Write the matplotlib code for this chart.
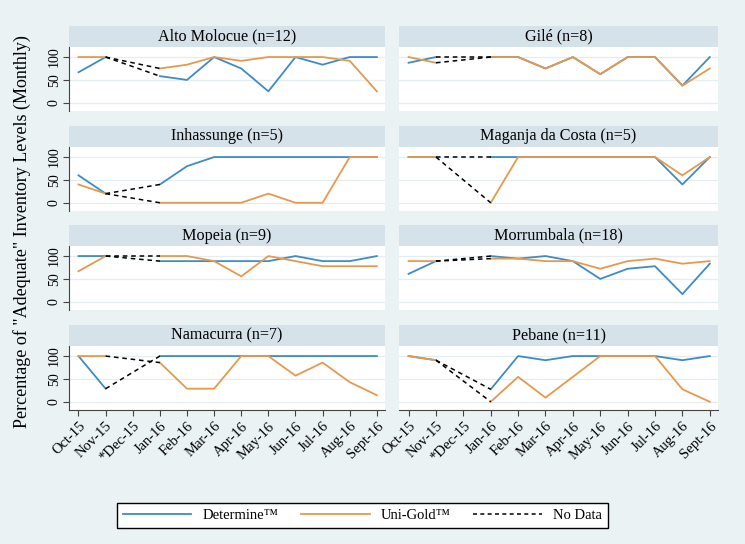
import numpy as np
import matplotlib
matplotlib.use("Agg")
import matplotlib.pyplot as plt
from matplotlib.lines import Line2D

plt.rcParams['font.family'] = ['Liberation Serif', 'DejaVu Serif']

months = ["Oct-15", "Nov-15", "*Dec-15", "Jan-16", "Feb-16", "Mar-16", "Apr-16",
          "May-16", "Jun-16", "Jul-16", "Aug-16", "Sept-16"]
nan = np.nan

sites = ["Alto Molocue (n=12)", "Gilé (n=8)", "Inhassunge (n=5)", "Maganja da Costa (n=5)",
         "Mopeia (n=9)", "Morrumbala (n=18)", "Namacurra (n=7)", "Pebane (n=11)"]

# Determine (blue)
determine = [
    [66.7, 100, nan, 58.3, 50, 100, 75, 25, 100, 83.3, 100, 100],
    [87.5, 100, nan, 100, 100, 75, 100, 62.5, 100, 100, 37.5, 100],
    [60, 20, nan, 40, 80, 100, 100, 100, 100, 100, 100, 100],
    [100, 100, nan, 100, 100, 100, 100, 100, 100, 100, 40, 100],
    [100, 100, nan, 88.9, 88.9, 88.9, 88.9, 88.9, 100, 88.9, 88.9, 100],
    [61.1, 88.9, nan, 100, 94.4, 100, 88.9, 50, 72.2, 77.8, 16.7, 83.3],
    [100, 28.6, nan, 100, 100, 100, 100, 100, 100, 100, 100, 100],
    [100, 90.9, nan, 27.3, 100, 90.9, 100, 100, 100, 100, 90.9, 100],
]
# Uni-Gold (orange)
unigold = [
    [100, 100, nan, 75, 83.3, 100, 91.7, 100, 100, 100, 91.7, 25],
    [100, 87.5, nan, 100, 100, 75, 100, 62.5, 100, 100, 37.5, 75],
    [40, 20, nan, 0, 0, 0, 0, 20, 0, 0, 100, 100],
    [100, 100, nan, 0, 100, 100, 100, 100, 100, 100, 60, 100],
    [66.7, 100, nan, 100, 100, 88.9, 55.6, 100, 88.9, 77.8, 77.8, 77.8],
    [88.9, 88.9, nan, 94.4, 94.4, 88.9, 88.9, 72.2, 88.9, 94.4, 83.3, 88.9],
    [100, 100, nan, 85.7, 28.6, 28.6, 100, 100, 57.1, 85.7, 42.9, 14.3],
    [100, 90.9, nan, 0, 54.5, 9.1, 54.5, 100, 100, 100, 27.3, 0],
]

BLUE = "#3d8cc4"
ORANGE = "#e6994c"
BG = "#eaf2f3"
STRIP = "#d6e2e9"
GRID = "#e4edf0"
AX = "#444444"

W, H = 745, 544
fig = plt.figure(figsize=(W / 100, H / 100), dpi=100, facecolor=BG)


def rect(x0, y0, x1, y1):
    return [x0 / W, 1 - y1 / H, (x1 - x0) / W, (y1 - y0) / H]


cols = [(69, 385), (399, 718)]
tops = [47, 147, 246, 346]
ph = 64
sh = 21
x = np.arange(len(months))

for i, name in enumerate(sites):
    r, c = divmod(i, 2)
    x0, x1 = cols[c]
    top = tops[r]

    # title strip
    sax = fig.add_axes(rect(x0, top - sh, x1, top))
    sax.set_facecolor(STRIP)
    sax.set_xticks([])
    sax.set_yticks([])
    for s in sax.spines.values():
        s.set_visible(False)
    sax.text(0.5, 0.5, name, ha='center', va='center', fontsize=11.6, transform=sax.transAxes)

    ax = fig.add_axes(rect(x0, top, x1, top + ph))
    ax.set_facecolor("white")
    ax.set_xlim(-0.35, 11.3)
    ax.set_ylim(-18, 122)
    for yv in [0, 50, 100]:
        ax.axhline(yv, color=GRID, lw=0.9, zorder=0)

    d = np.array(determine[i])
    u = np.array(unigold[i])
    ax.plot(x, d, color=BLUE, lw=1.3, zorder=2)
    ax.plot(x, u, color=ORANGE, lw=1.3, zorder=3)
    ax.plot([1, 3], [d[1], d[3]], color='black', lw=1.1, dashes=(3, 2.5), zorder=4)
    ax.plot([1, 3], [u[1], u[3]], color='black', lw=1.1, dashes=(3, 2.5), zorder=4)

    for s in ['top', 'right']:
        ax.spines[s].set_visible(False)
    ax.spines['left'].set_visible(c == 0)
    ax.spines['bottom'].set_visible(r == 3)
    ax.spines['left'].set_color(AX)
    ax.spines['bottom'].set_color(AX)

    if c == 0:
        ax.set_yticks([0, 50, 100])
        ax.set_yticklabels(["0", "50", "100"], rotation=90, va='center', fontsize=10)
        ax.tick_params(axis='y', length=4, color=AX, pad=2)
    else:
        ax.set_yticks([])

    if r == 3:
        ax.set_xticks(x)
        ax.set_xticklabels(months, rotation=45, ha='right', rotation_mode='anchor', fontsize=10.5)
        ax.tick_params(axis='x', length=4, color=AX, pad=3)
    else:
        ax.set_xticks([])

fig.text(22 / W, 1 - 232 / H, 'Percentage of "Adequate" Inventory Levels (Monthly)',
         rotation=90, ha='center', va='center', fontsize=13)

handles = [Line2D([], [], color=BLUE, lw=1.3),
           Line2D([], [], color=ORANGE, lw=1.3),
           Line2D([], [], color='black', lw=1.1, dashes=(2.6, 2.2))]
leg = fig.legend(handles, ["Determine™", "Uni-Gold™", "No Data"], ncol=3,
                 loc='lower left', bbox_to_anchor=rect(117, 493, 608, 528), mode='expand',
                 fontsize=10.5, handlelength=4.7, handletextpad=0.8, columnspacing=2.0,
                 fancybox=False, framealpha=1, edgecolor='black', borderaxespad=0)
leg.get_frame().set_linewidth(1.0)

fig.savefig("out.png", dpi=100, facecolor=BG)
